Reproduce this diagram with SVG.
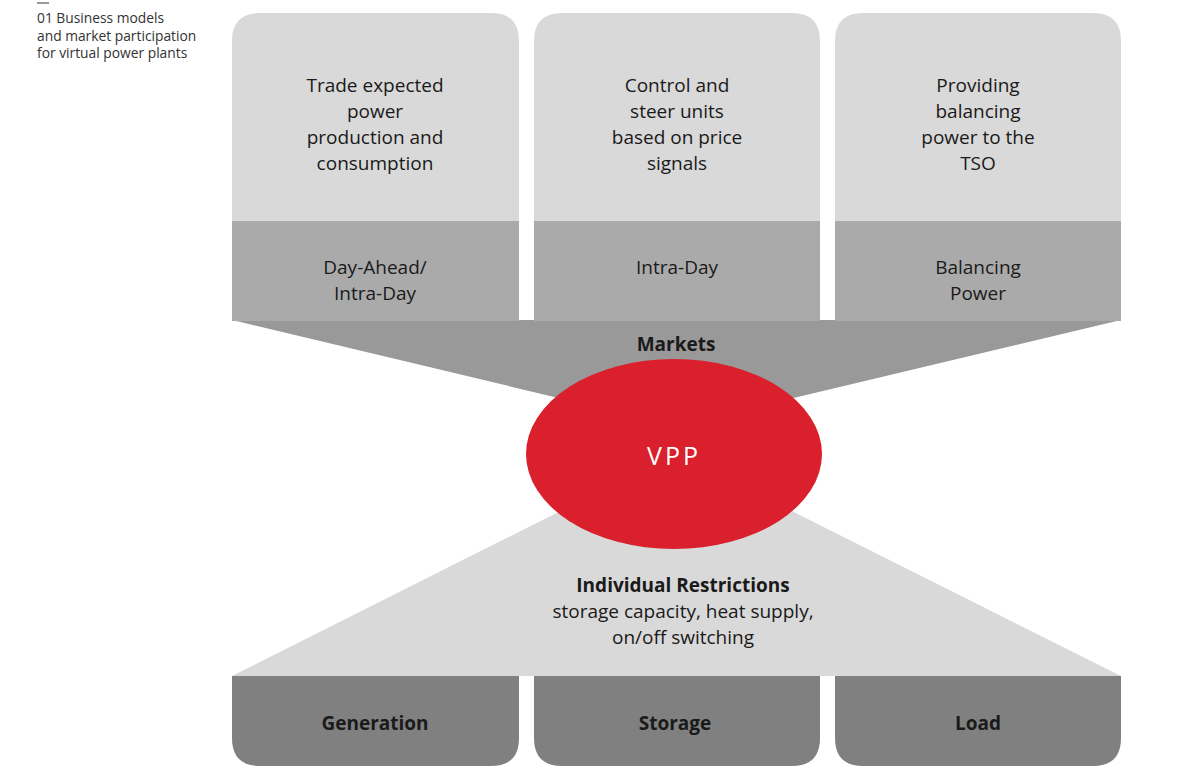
<svg xmlns="http://www.w3.org/2000/svg" width="1200" height="782" viewBox="0 0 1200 782">
<style>
.t{font-family:"Open Sans","Noto Sans","Liberation Sans",sans-serif;fill:#1a1a1a;text-anchor:middle;font-size:19px}
.b{font-weight:bold}
.cap{font-family:"Open Sans","Noto Sans","Liberation Sans",sans-serif;fill:#333;font-size:13.8px}
.light{fill:#d9d9d9}
.mid{fill:#aaaaaa}
.dark{fill:#808080}
</style>
<rect width="1200" height="782" fill="#ffffff"/>
<g id="caption">
<line x1="37" y1="3" x2="49" y2="3" stroke="#555" stroke-width="1.2"/>
<text class="cap" x="37" y="23">01 Business models</text>
<text class="cap" x="37" y="41">and market participation</text>
<text class="cap" x="37" y="58">for virtual power plants</text>
</g>
<g id="connectors">
<polygon points="232,320 1121,320 676,426" fill="#999999"/>
<polygon points="232,676 1121,676 676,453" class="light"/>
</g>
<g id="box1">
<path d="M232,221 V41 Q232,13 260,13 H491 Q519,13 519,41 V221 Z" class="light"/>
<rect x="232" y="221" width="287" height="100" class="mid"/>
<text class="t" x="375" y="92">Trade expected</text>
<text class="t" x="375" y="118">power</text>
<text class="t" x="375" y="144">production and</text>
<text class="t" x="375" y="170">consumption</text>
<text class="t" x="375" y="274">Day-Ahead/</text>
<text class="t" x="375" y="300">Intra-Day</text>
</g>
<g id="box2">
<path d="M534,221 V41 Q534,13 562,13 H792 Q820,13 820,41 V221 Z" class="light"/>
<rect x="534" y="221" width="286" height="100" class="mid"/>
<text class="t" x="677" y="92">Control and</text>
<text class="t" x="677" y="118">steer units</text>
<text class="t" x="677" y="144">based on price</text>
<text class="t" x="677" y="170">signals</text>
<text class="t" x="677" y="274">Intra-Day</text>
</g>
<g id="box3">
<path d="M835,221 V41 Q835,13 863,13 H1093 Q1121,13 1121,41 V221 Z" class="light"/>
<rect x="835" y="221" width="286" height="100" class="mid"/>
<text class="t" x="978" y="92">Providing</text>
<text class="t" x="978" y="118">balancing</text>
<text class="t" x="978" y="144">power to the</text>
<text class="t" x="978" y="170">TSO</text>
<text class="t" x="978" y="274">Balancing</text>
<text class="t" x="978" y="300">Power</text>
</g>
<g id="markets">
<text class="t b" x="676" y="351" font-size="17">Markets</text>
</g>
<g id="vpp">
<ellipse cx="674" cy="454" rx="148" ry="95" fill="#d9202c"/>
<text class="t" x="674" y="465" style="fill:#ffffff;font-size:25px;letter-spacing:3px">VPP</text>
</g>
<g id="restrictions">
<text class="t b" x="683" y="592">Individual Restrictions</text>
<text class="t" x="683" y="618">storage capacity, heat supply,</text>
<text class="t" x="683" y="644">on/off switching</text>
</g>
<g id="generation">
<path d="M232,676 H519 V738 Q519,766 491,766 H260 Q232,766 232,738 Z" class="dark"/>
<text class="t b" x="375" y="730" font-size="17">Generation</text>
</g>
<g id="storage">
<path d="M534,676 H820 V738 Q820,766 792,766 H562 Q534,766 534,738 Z" class="dark"/>
<text class="t b" x="675" y="730" font-size="17">Storage</text>
</g>
<g id="load">
<path d="M835,676 H1121 V738 Q1121,766 1093,766 H863 Q835,766 835,738 Z" class="dark"/>
<text class="t b" x="978" y="730" font-size="17">Load</text>
</g>
</svg>
